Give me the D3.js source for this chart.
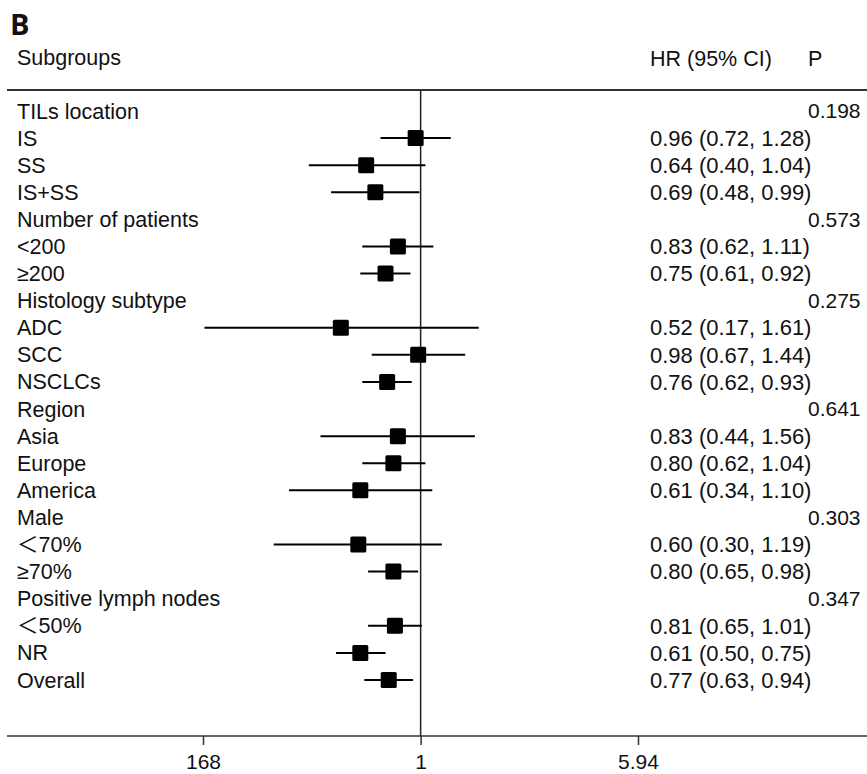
<!DOCTYPE html>
<html>
<head>
<meta charset="utf-8">
<script src="https://cdn.jsdelivr.net/npm/d3@7"></script>
<style>
  body { margin: 0; background: #fff; }
  text { font-family: "Liberation Sans", Arial, "Noto Sans CJK SC", sans-serif; fill: #111; }
</style>
</head>
<body>
<svg id="forest" width="867" height="774"></svg>
<script>
// rows of the forest plot, top to bottom
const subgroups = ["TILs location", "IS", "SS", "IS+SS", "Number of patients", "<200", "\u2265200",
  "Histology subtype", "ADC", "SCC", "NSCLCs", "Region", "Asia", "Europe", "America",
  "Male", "\uFF1C70%", "\u226570%", "Positive lymph nodes", "\uFF1C50%", "NR", "Overall"];
const hr    = [null, 0.96, 0.64, 0.69, null, 0.83, 0.75, null, 0.52, 0.98, 0.76, null, 0.83, 0.80, 0.61, null, 0.60, 0.80, null, 0.81, 0.61, 0.77];
const lower = [null, 0.72, 0.40, 0.48, null, 0.62, 0.61, null, 0.17, 0.67, 0.62, null, 0.44, 0.62, 0.34, null, 0.30, 0.65, null, 0.65, 0.50, 0.63];
const upper = [null, 1.28, 1.04, 0.99, null, 1.11, 0.92, null, 1.61, 1.44, 0.93, null, 1.56, 1.04, 1.10, null, 1.19, 0.98, null, 1.01, 0.75, 0.94];
const pValues = ["0.198", "", "", "", "0.573", "", "", "0.275", "", "", "", "0.641", "", "", "",
  "0.303", "", "", "0.347", "", "", ""];
const tickVals = [0.168, 1, 5.94];
const tickLabels = ["168", "1", "5.94"];

var svg = d3.select("#forest");

var x = d3.scaleLog()
    .domain([0.168, 5.94])
    .range([203, 638]);

var y = d3.scalePoint()
    .domain(d3.range(subgroups.length))
    .range([111, 680]);

var rows = subgroups.map(function(d, i) {
    return {label: d, hr: hr[i], lo: lower[i], hi: upper[i], p: pValues[i], i: i};
});

// panel letter
svg.append("text")
    .attr("x", 10).attr("y", 35)
    .style("font-family", "'Open Sans', 'DejaVu Sans', sans-serif")
    .style("font-weight", "bold")
    .style("font-size", "29px")
    .text("B");

// header texts
svg.append("text").attr("x", 17).attr("y", 57).attr("dy", "0.35em")
    .style("font-size", "21.5px").text("Subgroups");
svg.append("text").attr("x", 650).attr("y", 58).attr("dy", "0.35em")
    .style("font-size", "21.5px").text("HR (95% CI)");
svg.append("text").attr("x", 808).attr("y", 58).attr("dy", "0.35em")
    .style("font-size", "21.5px").text("P");

// header rule and bottom axis rule
svg.append("line")
    .attr("x1", 7).attr("x2", 867).attr("y1", 90).attr("y2", 90)
    .attr("stroke", "#333").attr("stroke-width", 2);
svg.append("line")
    .attr("x1", 7).attr("x2", 867).attr("y1", 736).attr("y2", 736)
    .attr("stroke", "#333").attr("stroke-width", 1.6);

// reference line at HR = 1
svg.append("line")
    .attr("x1", x(1)).attr("x2", x(1)).attr("y1", 90).attr("y2", 736)
    .attr("stroke", "#222").attr("stroke-width", 1.5);

// x axis
var xAxis = d3.axisBottom(x)
    .tickValues(tickVals)
    .tickFormat(function(d, i) { return tickLabels[i]; })
    .tickSize(9)
    .tickSizeOuter(0);

var gx = svg.append("g")
    .attr("class", "x axis")
    .attr("transform", "translate(0,736)")
    .call(xAxis);
gx.select(".domain").remove();
gx.selectAll(".tick line").attr("stroke", "#333").attr("stroke-width", 1.5);
gx.selectAll(".tick text")
    .attr("y", 18)
    .style("font-family", "'Liberation Sans', Arial, sans-serif")
    .style("font-size", "21px")
    .style("fill", "#111");

// row labels
svg.selectAll(".label")
    .data(rows)
    .enter().append("text")
    .attr("class", "label")
    .attr("x", 17)
    .attr("y", function(d) { return y(d.i); })
    .attr("dy", "0.35em")
    .style("font-size", "21.5px")
    .text(function(d) { return d.label; });

var est = rows.filter(function(d) { return d.hr != null; });

// confidence intervals
svg.selectAll(".ci")
    .data(est)
    .enter().append("line")
    .attr("class", "ci")
    .attr("x1", function(d) { return x(d.lo); })
    .attr("x2", function(d) { return x(d.hi); })
    .attr("y1", function(d) { return y(d.i); })
    .attr("y2", function(d) { return y(d.i); })
    .attr("stroke", "#000")
    .attr("stroke-width", 2);

// point estimates
var sq = 16;
svg.selectAll(".box")
    .data(est)
    .enter().append("rect")
    .attr("class", "box")
    .attr("x", function(d) { return x(d.hr) - sq / 2; })
    .attr("y", function(d) { return y(d.i) - sq / 2; })
    .attr("width", sq)
    .attr("height", sq)
    .attr("rx", 1.5)
    .attr("fill", "#000");

// HR (95% CI) column
svg.selectAll(".hrtext")
    .data(est)
    .enter().append("text")
    .attr("class", "hrtext")
    .attr("x", 650)
    .attr("y", function(d) { return y(d.i); })
    .attr("dy", "0.35em")
    .style("font-size", "22px")
    .text(function(d) {
        return d.hr.toFixed(2) + " (" + d.lo.toFixed(2) + ", " + d.hi.toFixed(2) + ")";
    });

// P column
svg.selectAll(".ptext")
    .data(rows.filter(function(d) { return d.p !== ""; }))
    .enter().append("text")
    .attr("class", "ptext")
    .attr("x", 808)
    .attr("y", function(d) { return y(d.i); })
    .attr("dy", "0.35em")
    .style("font-size", "21px")
    .text(function(d) { return d.p; });
</script>
</body>
</html>
